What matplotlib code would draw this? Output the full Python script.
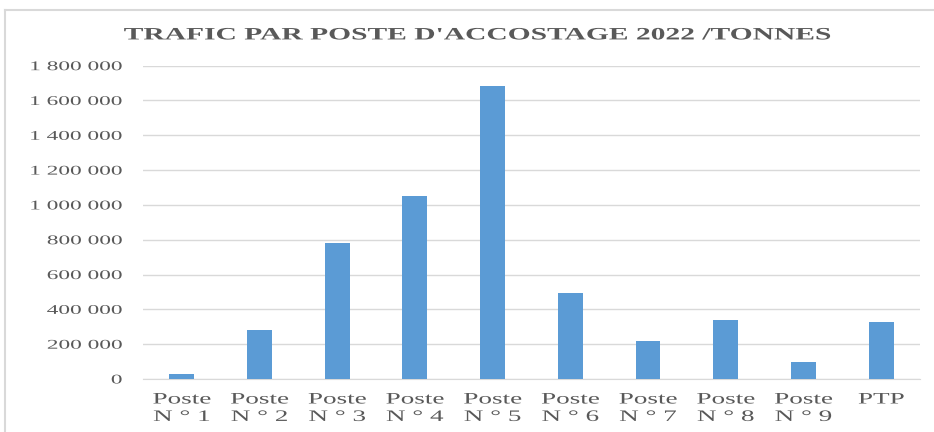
import matplotlib.pyplot as plt
from matplotlib.lines import Line2D
from matplotlib.patheffects import AbstractPathEffect
from matplotlib.transforms import Affine2D
from matplotlib.ticker import FuncFormatter

plt.rcParams['font.family'] = ['Liberation Serif', 'DejaVu Serif']

# Données (tonnes)
postes = ["Poste\nN ° 1", "Poste\nN ° 2", "Poste\nN ° 3", "Poste\nN ° 4", "Poste\nN ° 5",
          "Poste\nN ° 6", "Poste\nN ° 7", "Poste\nN ° 8", "Poste\nN ° 9", "PTP"]
tonnes = [30000, 282000, 782000, 1052000, 1685000, 495000, 220000, 341000, 99000, 328000]

gris = "#595959"
bleu = "#5b9bd5"


class Etirement(AbstractPathEffect):
    """Élargit le texte horizontalement (l'image d'origine est étirée)"""
    def __init__(self, sx, ancre='center'):
        super().__init__()
        self.sx = sx
        self.ancre = ancre

    def draw_path(self, renderer, gc, tpath, affine, rgbFace=None):
        bb = tpath.get_extents(affine)
        if self.ancre == 'right':
            cx = bb.x1
        else:
            cx = (bb.x0 + bb.x1) / 2
        aff = affine + Affine2D().translate(-cx, 0).scale(self.sx, 1).translate(cx, 0)
        renderer.draw_path(gc, tpath, aff, rgbFace)


fig = plt.figure(figsize=(9.34, 4.32), dpi=100)
ax = fig.add_axes([0.153, 0.1227, 0.832, 0.7253])

x = range(len(postes))
ax.bar(x, tonnes, width=0.32, color=bleu, zorder=3)

ax.set_xlim(-0.5, len(postes) - 0.5)
ax.set_ylim(0, 1800000)
ax.set_yticks(range(0, 1800001, 200000))
ax.yaxis.set_major_formatter(FuncFormatter(lambda v, p: f"{int(v):,}".replace(",", " ")))
ax.set_xticks(list(x))
ax.set_xticklabels(postes, fontsize=11.5, color=gris, linespacing=1.12)

ax.grid(axis='y', color='#d9d9d9', linewidth=1, zorder=0)
for s in ['top', 'right', 'left']:
    ax.spines[s].set_visible(False)
ax.spines['bottom'].set_color('#d9d9d9')
ax.tick_params(axis='both', length=0, colors=gris)
ax.tick_params(axis='y', labelsize=9.6, pad=15)
ax.tick_params(axis='x', pad=9)

for lab in ax.get_yticklabels():
    lab.set_path_effects([Etirement(1.75, 'right')])
for lab in ax.get_xticklabels():
    lab.set_path_effects([Etirement(1.7)])

titre = fig.text(478 / 934, 0.918, "TRAFIC PAR POSTE D'ACCOSTAGE 2022 /TONNES", ha='center',
                 va='center', fontsize=12.5, fontweight='bold', color=gris)
titre.set_path_effects([Etirement(1.7)])

# cadre du graphique
fig.add_artist(Line2D([5 / 934, 5 / 934], [0, 1 - 10 / 432], color='#d9d9d9', lw=1.5))
fig.add_artist(Line2D([5 / 934, 1], [1 - 10 / 432, 1 - 10 / 432], color='#d9d9d9', lw=1.5))

plt.savefig("out.png", dpi=100)
